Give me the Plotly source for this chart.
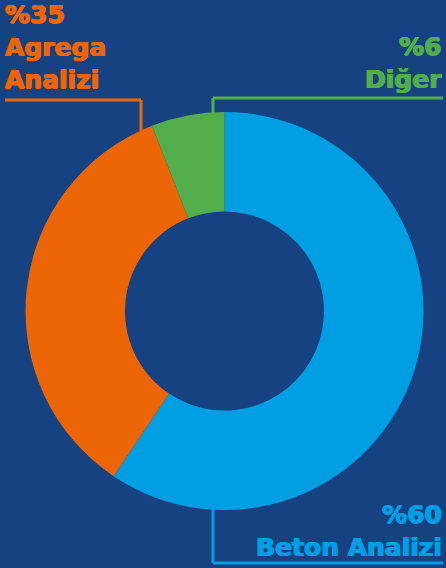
import plotly.graph_objects as go

W, H = 446, 568

labels = ["Beton Analizi", "Agrega Analizi", "Diğer"]
values = [60, 35, 6]
colors = ["#009FE3", "#EC6608", "#52AE4A"]
bg = "#164282"

fig = go.Figure()
fig.add_trace(go.Pie(
    labels=labels, values=values, hole=0.5, sort=False,
    direction="clockwise", rotation=0,
    marker=dict(colors=colors, line=dict(width=0)),
    textinfo="none", hoverinfo="label+value", showlegend=False,
    domain=dict(x=[(224.5 - 199) / W, (224.5 + 199) / W],
                y=[1 - (311 + 199) / H, 1 - (311 - 199) / H]),
))

def px(x):
    return x / W

def py(y):
    return 1 - y / H

font = "DejaVu Sans"
ann = []
ann.append(dict(text=f"<b>%{values[1]}</b><br><b>Agrega</b><br><b>Analizi</b>", x=px(3), y=py(-2),
                xanchor="left", yanchor="top", align="left"))
ann.append(dict(text=f"<b>%{values[2]}</b><br><b>{labels[2]}</b>", x=px(444), y=py(30),
                xanchor="right", yanchor="top", align="right"))
ann.append(dict(text=f"<b>%{values[0]}</b><br><b>{labels[0]}</b>", x=px(444), y=py(498),
                xanchor="right", yanchor="top", align="right"))
acol = [colors[1], colors[2], colors[0]]
for a, c in zip(ann, acol):
    a.update(xref="paper", yref="paper", showarrow=False,
             font=dict(family=font, size=25, color=c,
                       shadow=f"0.7px 0 0 {c}, -0.7px 0 0 {c}, 0 0.5px 0 {c}"))

lw = 3
shapes = [
    dict(type="line", x0=px(5), y0=py(100), x1=px(141), y1=py(100), line=dict(color=colors[1], width=lw)),
    dict(type="line", x0=px(141), y0=py(100), x1=px(141), y1=py(131), line=dict(color=colors[1], width=lw)),
    dict(type="line", x0=px(213), y0=py(98), x1=px(443), y1=py(98), line=dict(color=colors[2], width=lw)),
    dict(type="line", x0=px(213), y0=py(98), x1=px(213), y1=py(113), line=dict(color=colors[2], width=lw)),
    dict(type="line", x0=px(213), y0=py(509), x1=px(213), y1=py(563), line=dict(color=colors[0], width=lw)),
    dict(type="line", x0=px(213), y0=py(563), x1=px(443), y1=py(563), line=dict(color=colors[0], width=lw)),
]
for s in shapes:
    s.update(xref="paper", yref="paper", layer="below")

fig.update_layout(
    width=W, height=H, margin=dict(l=0, r=0, t=0, b=0),
    paper_bgcolor=bg, plot_bgcolor=bg,
    annotations=ann, shapes=shapes,
)

fig.write_html("out.html", config={"displayModeBar": False})
